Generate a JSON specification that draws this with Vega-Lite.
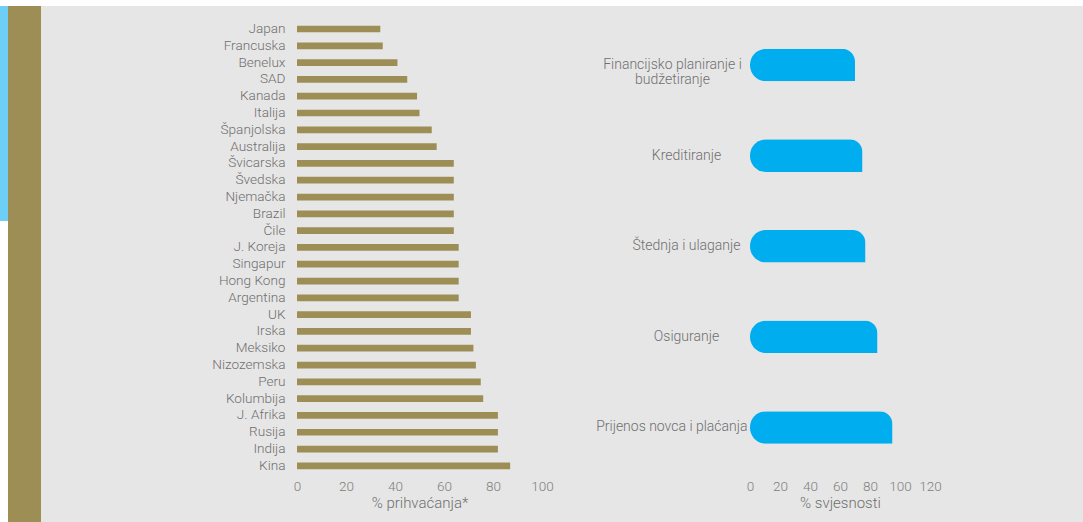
{
  "$schema": "https://vega.github.io/schema/vega-lite/v6.json",
  "padding": 0,
  "background": "#e6e6e6",
  "spacing": 0,
  "bounds": "flush",
  "config": {"view": {"stroke": null}, "font": "Roboto"},
  "datasets": {
    "adoption": [
      {"country": "Japan", "value": 34},
      {"country": "Francuska", "value": 35},
      {"country": "Benelux", "value": 41},
      {"country": "SAD", "value": 45},
      {"country": "Kanada", "value": 49},
      {"country": "Italija", "value": 50},
      {"country": "Španjolska", "value": 55},
      {"country": "Australija", "value": 57},
      {"country": "Švicarska", "value": 64},
      {"country": "Švedska", "value": 64},
      {"country": "Njemačka", "value": 64},
      {"country": "Brazil", "value": 64},
      {"country": "Čile", "value": 64},
      {"country": "J. Koreja", "value": 66},
      {"country": "Singapur", "value": 66},
      {"country": "Hong Kong", "value": 66},
      {"country": "Argentina", "value": 66},
      {"country": "UK", "value": 71},
      {"country": "Irska", "value": 71},
      {"country": "Meksiko", "value": 72},
      {"country": "Nizozemska", "value": 73},
      {"country": "Peru", "value": 75},
      {"country": "Kolumbija", "value": 76},
      {"country": "J. Afrika", "value": 82},
      {"country": "Rusija", "value": 82},
      {"country": "Indija", "value": 82},
      {"country": "Kina", "value": 87}
    ],
    "awareness": [
      {"category": "Financijsko planiranje i budžetiranje", "value": 70},
      {"category": "Kreditiranje", "value": 75},
      {"category": "Štednja i ulaganje", "value": 77},
      {"category": "Osiguranje", "value": 85},
      {"category": "Prijenos novca i plaćanja", "value": 95}
    ],
    "empty": []
  },
  "vconcat": [
    {"width": 1083, "height": 6, "view": {"fill": "#ffffff"}, "data": {"name": "empty"}, "mark": "rect", "encoding": {}},
    {
      "spacing": 0,
      "bounds": "flush",
      "hconcat": [
        {
          "width": 8, "height": 516,
          "view": {"fill": {"gradient": "linear", "x1": 0, "y1": 0, "x2": 0, "y2": 1, "stops": [
            {"offset": 0, "color": "#6dcff6"},
            {"offset": 0.4167, "color": "#6dcff6"},
            {"offset": 0.4168, "color": "#ffffff"},
            {"offset": 1, "color": "#ffffff"}
          ]}},
          "data": {"name": "empty"}, "mark": "rect", "encoding": {}
        },
        {"width": 33, "height": 516, "view": {"fill": "#9d8e56"}, "data": {"name": "empty"}, "mark": "rect", "encoding": {}},
        {"width": 256, "height": 516, "data": {"name": "empty"}, "mark": "rect", "encoding": {}},
        {
          "width": 245,
          "height": 467,
          "data": {"name": "adoption"},
          "mark": {"type": "bar", "color": "#9d8e56"},
          "encoding": {
            "y": {
              "field": "country", "type": "nominal", "sort": null,
              "scale": {"paddingInner": 0.6, "paddingOuter": 0.6976, "align": 0.838},
              "axis": {"title": null, "domain": false, "ticks": false, "labelPadding": 12, "labelFontSize": 13.6, "labelFontWeight": 300, "labelColor": "#6f6f6f", "labelLimit": 300}
            },
            "x": {
              "field": "value", "type": "quantitative",
              "scale": {"domain": [0, 100]},
              "axis": {"title": "% prihvaćanja*", "values": [0, 20, 40, 60, 80, 100], "grid": false, "domain": false, "ticks": false, "labelFlush": false, "labelOverlap": false, "labelPadding": 6, "labelFontSize": 13.5, "labelFontWeight": 300, "labelColor": "#808080", "titleFontSize": 15, "titleFontWeight": 300, "titleColor": "#6f6f6f", "titlePadding": 3}
            }
          }
        },
        {"width": 208, "height": 516, "data": {"name": "empty"}, "mark": "rect", "encoding": {}},
        {
          "width": 180,
          "height": 467,
          "data": {"name": "awareness"},
          "mark": {"type": "bar", "color": "#00aeef", "cornerRadiusTopLeft": 16, "cornerRadiusBottomLeft": 16, "cornerRadiusTopRight": 13, "cornerRadiusBottomRight": 0},
          "encoding": {
            "y": {
              "field": "category", "type": "nominal", "sort": null,
              "scale": {"paddingInner": 0.641, "paddingOuter": 0.398, "align": 0.593},
              "axis": {
                "title": null, "domain": false, "ticks": false, "labelFontSize": 14, "labelFontWeight": 300, "labelColor": "#6f6f6f", "labelLimit": 300, "labelLineHeight": 15,
                "labelExpr": "datum.value == 'Financijsko planiranje i budžetiranje' ? ['Financijsko planiranje i', 'budžetiranje'] : datum.label",
                "labelAlign": {"condition": {"test": "datum.value == 'Prijenos novca i plaćanja'", "value": "right"}, "value": "center"},
                "labelPadding": {"condition": [{"test": "datum.value == 'Prijenos novca i plaćanja'", "value": 3}, {"test": "datum.value == 'Financijsko planiranje i budžetiranje'", "value": 78}], "value": 64}
              }
            },
            "x": {
              "field": "value", "type": "quantitative",
              "scale": {"domain": [0, 120]},
              "axis": {"title": "% svjesnosti", "values": [0, 20, 40, 60, 80, 100, 120], "grid": false, "domain": false, "ticks": false, "labelFlush": false, "labelOverlap": false, "labelPadding": 6, "labelFontSize": 13.5, "labelFontWeight": 300, "labelColor": "#808080", "titleFontSize": 15, "titleFontWeight": 300, "titleColor": "#6f6f6f", "titlePadding": 3}
            }
          }
        },
        {"width": 153, "height": 516, "data": {"name": "empty"}, "mark": "rect", "encoding": {}}
      ]
    }
  ]
}
